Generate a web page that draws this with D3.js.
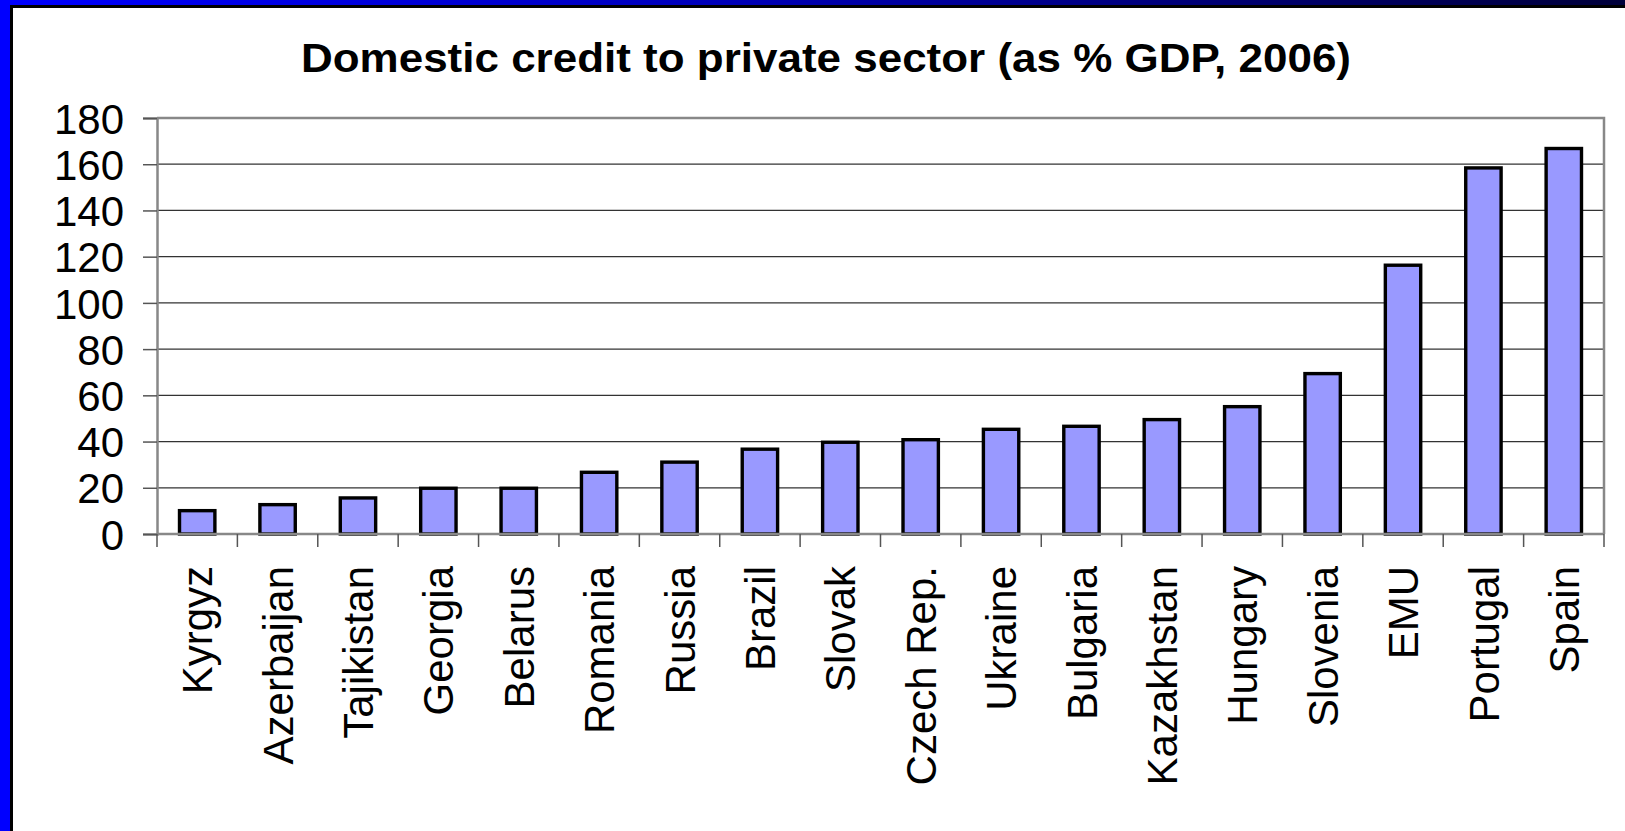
<!DOCTYPE html>
<html><head><meta charset="UTF-8">
<style>
body { margin: 0; background: #fff; }
svg { display: block; }
.grid line { stroke: #333; stroke-width: 1.3; }
</style>
</head>
<body>
<svg width="1625" height="831"></svg>
<script src="https://cdn.jsdelivr.net/npm/d3@7"></script>
<script>

var countries = ["Kyrgyz", "Azerbaijan", "Tajikistan", "Georgia", "Belarus", "Romania",
                 "Russia", "Brazil", "Slovak", "Czech Rep.", "Ukraine", "Bulgaria",
                 "Kazakhstan", "Hungary", "Slovenia", "EMU", "Portugal", "Spain"];
var credit = [10.1, 12.7, 15.6, 19.8, 19.8, 26.7, 31.1, 36.7, 39.7, 40.8, 45.3, 46.6,
              49.5, 55.1, 69.4, 116.3, 158.4, 166.8];
var yTicks = [0, 20, 40, 60, 80, 100, 120, 140, 160, 180];
var title = "Domestic credit to private sector (as % GDP, 2006)";

var svg = d3.select("svg"),
    margin = {top: 118, right: 21, bottom: 297, left: 157},
    width = +svg.attr("width") - margin.left - margin.right,
    height = +svg.attr("height") - margin.top - margin.bottom;

// slide frame: blue band with black inner line
var defs = svg.append("defs");
var grad = defs.append("linearGradient").attr("id", "topband");
grad.append("stop").attr("offset", "0%").attr("stop-color", "#0000ff");
grad.append("stop").attr("offset", "45%").attr("stop-color", "#0000b8");
grad.append("stop").attr("offset", "100%").attr("stop-color", "#00003a");

svg.append("rect").attr("x", 0).attr("y", 0).attr("width", 1625).attr("height", 5).attr("fill", "url(#topband)");
svg.append("rect").attr("x", 0).attr("y", 5).attr("width", 1625).attr("height", 3).attr("fill", "#000");
svg.append("rect").attr("x", 0).attr("y", 0).attr("width", 10).attr("height", 831).attr("fill", "#0000ff");
svg.append("rect").attr("x", 10).attr("y", 5).attr("width", 3).attr("height", 826).attr("fill", "#000");

svg.append("text")
    .attr("x", 826)
    .attr("y", 72)
    .attr("text-anchor", "middle")
    .attr("font-family", "Liberation Sans, Arial, sans-serif")
    .attr("font-weight", "bold")
    .attr("font-size", 41)
    .attr("textLength", 1050)
    .attr("lengthAdjust", "spacingAndGlyphs")
    .text(title);

var g = svg.append("g").attr("transform", "translate(" + margin.left + "," + margin.top + ")");

var x = d3.scaleBand()
    .domain(countries)
    .range([0, width])
    .paddingInner(0.56)
    .paddingOuter(0.28);

var y = d3.scaleLinear()
    .domain([0, 180])
    .range([height, 0]);

// gridlines
g.append("g")
    .attr("class", "grid")
    .selectAll("line")
    .data(yTicks.slice(1))
    .enter().append("line")
      .attr("x1", 0)
      .attr("x2", width)
      .attr("y1", function(d) { return y(d); })
      .attr("y2", function(d) { return y(d); });

// plot border top/right
g.append("path")
    .attr("d", "M0,0H" + width + "V" + height)
    .attr("fill", "none")
    .attr("stroke", "#888")
    .attr("stroke-width", 2.5);

// bars
g.append("g")
  .selectAll("rect")
  .data(countries)
  .enter().append("rect")
    .attr("x", function(d) { return x(d); })
    .attr("width", x.bandwidth())
    .attr("y", function(d, i) { return y(credit[i]); })
    .attr("height", function(d, i) { return height - y(credit[i]); })
    .attr("fill", "#9999ff")
    .attr("stroke", "#000")
    .attr("stroke-width", 3.4);

// y axis
var yAxis = g.append("g")
    .call(d3.axisLeft(y).tickValues(yTicks).tickSize(14).tickPadding(19));
yAxis.select(".domain").attr("stroke", "#888").attr("stroke-width", 2.5);
yAxis.selectAll(".tick line").attr("stroke", "#555").attr("stroke-width", 1.5);
yAxis.selectAll("text")
    .attr("font-family", "Liberation Sans, Arial, sans-serif")
    .attr("font-size", 42)
    .attr("fill", "#000")
    .attr("dy", "0.36em");

// x axis: baseline plus ticks between categories
var xg = g.append("g").attr("transform", "translate(0," + height + ")");
xg.append("line")
    .attr("x1", 0).attr("x2", width)
    .attr("stroke", "#888").attr("stroke-width", 2.5);

var step = x.step();
xg.selectAll(".sep")
  .data(d3.range(countries.length + 1))
  .enter().append("line")
    .attr("class", "sep")
    .attr("x1", function(i) { return i * step; })
    .attr("x2", function(i) { return i * step; })
    .attr("y1", 0).attr("y2", 13)
    .attr("stroke", "#555").attr("stroke-width", 1.5);

xg.selectAll(".lab")
  .data(countries)
  .enter().append("text")
    .attr("class", "lab")
    .attr("transform", function(d) {
        return "translate(" + (x(d) + x.bandwidth() / 2) + ",32) rotate(-90)";
    })
    .attr("text-anchor", "end")
    .attr("dy", "0.36em")
    .attr("font-family", "Liberation Sans, Arial, sans-serif")
    .attr("font-size", 42)
    .attr("fill", "#000")
    .text(function(d) { return d; });

</script>
</body></html>
